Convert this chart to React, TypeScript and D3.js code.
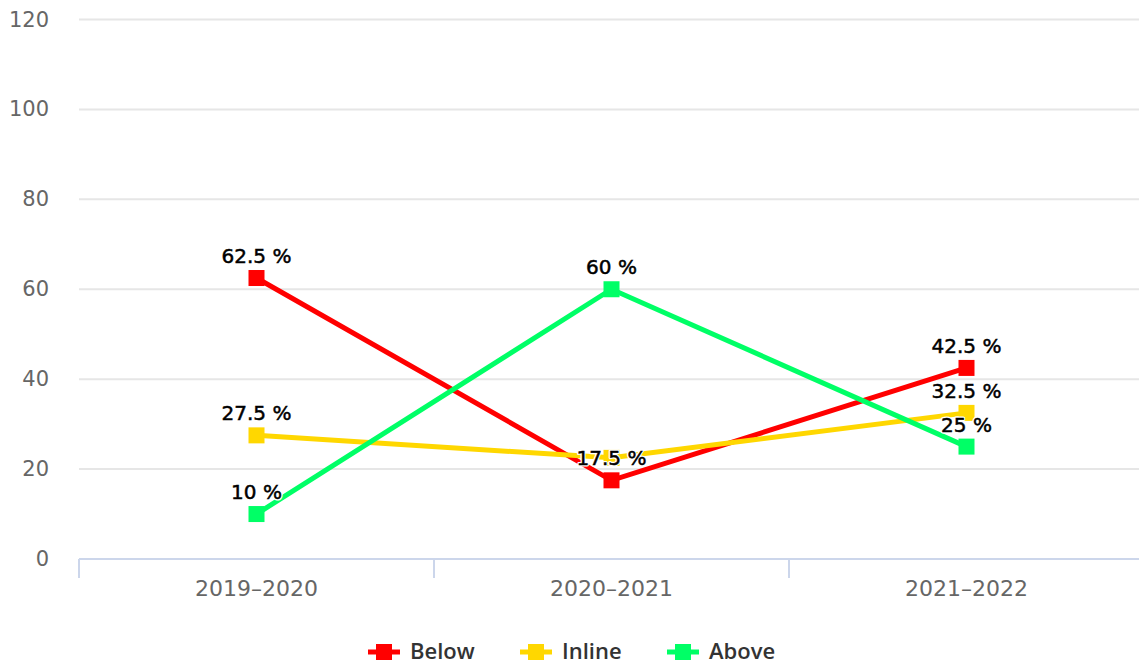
import React from "react";
import * as d3 from "d3";

const categories = ["2019–2020", "2020–2021", "2021–2022"];
const belowValues = [62.5, 17.5, 42.5];
const inlineValues = [27.5, 22.5, 32.5];
const aboveValues = [10, 60, 25];
const yTicks = [0, 20, 40, 60, 80, 100, 120];
const seriesNames = ["Below", "Inline", "Above"];
const seriesColors = ["#ff0000", "#ffd700", "#00ff66"];
// label visibility (Highcharts hid overlapping label)
const inlineLabelShown = [true, false, true];

const W = 1139;
const H = 666;
const left = 79;
const bandW = 355;
const top = 19.5;
const bottom = 559;
const FONT = "'DejaVu Sans', Verdana, sans-serif";

export default function App() {
  const x = d3.scaleBand<string>().domain(categories).range([left, left + bandW * categories.length]);
  const y = d3.scaleLinear().domain([0, 120]).range([bottom, top]);
  const series = [
    { name: seriesNames[0], color: seriesColors[0], values: belowValues, shown: [true, true, true] },
    { name: seriesNames[1], color: seriesColors[1], values: inlineValues, shown: inlineLabelShown },
    { name: seriesNames[2], color: seriesColors[2], values: aboveValues, shown: [true, true, true] },
  ];
  const cx = (c: string) => (x(c) as number) + x.bandwidth() / 2;
  const line = d3
    .line<number>()
    .x((_, i) => cx(categories[i]))
    .y((d) => y(d));
  const bounds = [...categories.map((c) => x(c) as number), left + bandW * categories.length];
  const legendX = [368, 520, 667];

  return (
    <svg
      width={W}
      height={H}
      style={{ position: "fixed", left: 0, top: 0, background: "#fff", fontFamily: FONT }}
    >
      {yTicks.map((t) => (
        <g key={t}>
          {t !== 0 && (
            <line x1={left} x2={W} y1={y(t)} y2={y(t)} stroke="#e6e6e6" strokeWidth={2} />
          )}
          <text x={49} y={y(t) + 7} textAnchor="end" fontSize={21} fill="#666">
            {t}
          </text>
        </g>
      ))}
      <line x1={left} x2={W} y1={bottom} y2={bottom} stroke="#ccd6eb" strokeWidth={2} />
      {bounds.map((b, i) => (
        <line key={i} x1={b} x2={b} y1={bottom} y2={bottom + 19} stroke="#ccd6eb" strokeWidth={2} />
      ))}
      {categories.map((c) => (
        <text key={c} x={cx(c)} y={596} textAnchor="middle" fontSize={22} fill="#666">
          {c}
        </text>
      ))}
      {series.map((s) => (
        <g key={s.name}>
          <path d={line(s.values) || ""} fill="none" stroke={s.color} strokeWidth={5} />
          {s.values.map((v, i) => (
            <rect key={i} x={cx(categories[i]) - 8} y={y(v) - 8} width={16} height={16} fill={s.color} />
          ))}
        </g>
      ))}
      {series.map((s) =>
        s.values.map((v, i) =>
          s.shown[i] ? (
            <g key={s.name + i}>
              <text
                x={cx(categories[i])}
                y={y(v) - 15}
                textAnchor="middle"
                fontSize={20}
                fill="#000"
                stroke="#fff"
                strokeWidth={3}
                strokeLinejoin="round"
              >
                {v} %
              </text>
              <text
                x={cx(categories[i])}
                y={y(v) - 15}
                textAnchor="middle"
                fontSize={20}
                fill="#000"
                stroke="#000"
                strokeWidth={0.5}
              >
                {v} %
              </text>
            </g>
          ) : null
        )
      )}
      {series.map((s, i) => (
        <g key={s.name} transform={`translate(${legendX[i]},652)`}>
          <line x1={0} x2={32} y1={0} y2={0} stroke={s.color} strokeWidth={5} />
          <rect x={8} y={-8} width={16} height={16} fill={s.color} />
          <text
            x={42}
            y={7}
            fontSize={22}
            fontWeight={600}
            fill="#333"
            style={{ fontFamily: "'Open Sans', sans-serif" }}
          >
            {s.name}
          </text>
        </g>
      ))}
    </svg>
  );
}
